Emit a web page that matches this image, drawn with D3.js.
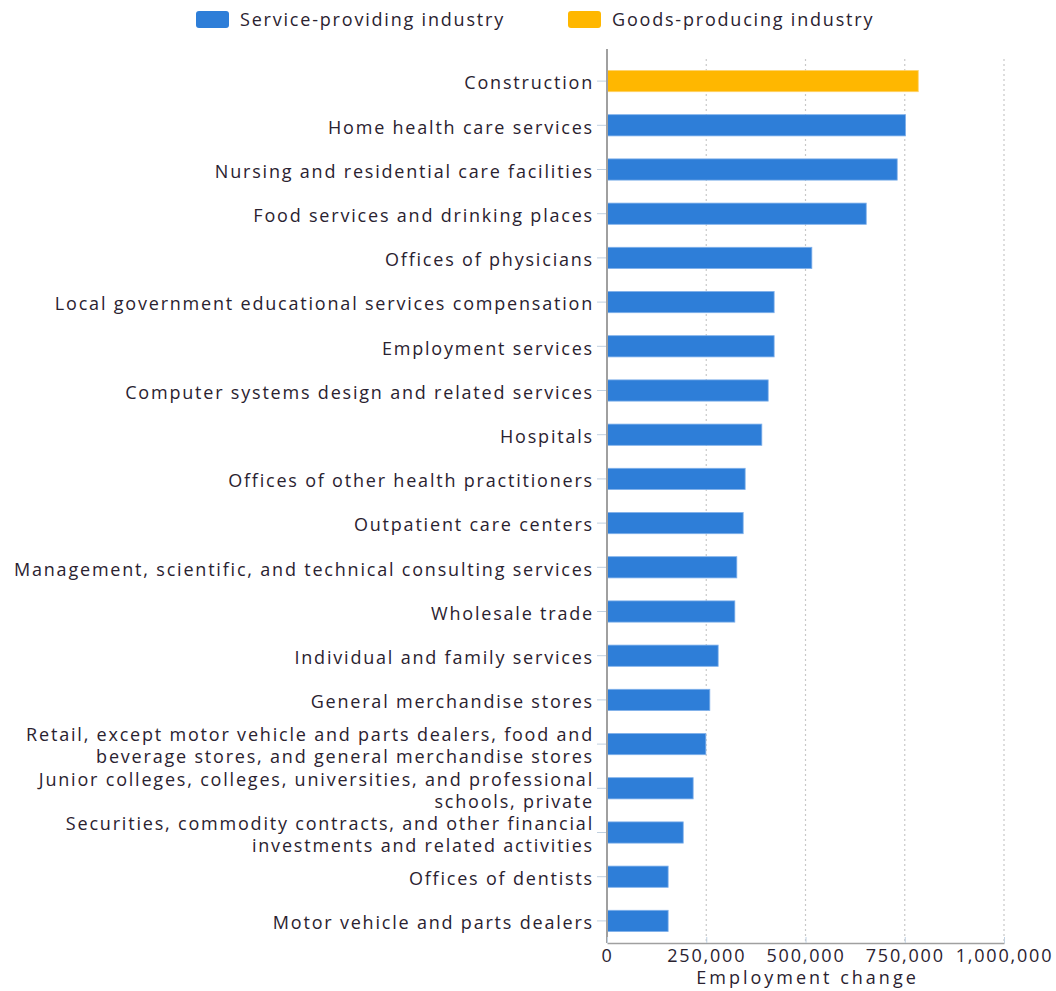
<!DOCTYPE html>
<html>
<head>
<meta charset="utf-8">
<script src="https://cdn.jsdelivr.net/npm/d3@7"></script>
<style>
  body { margin: 0; background: #fff; }
  svg text { font-family: "Open Sans", sans-serif; fill: #2a2230; font-size: 18px; letter-spacing: 1.8px; }
</style>
</head>
<body>
<div class="graph"></div>
<script>
var industries = [
  'Construction',
  'Home health care services',
  'Nursing and residential care facilities',
  'Food services and drinking places',
  'Offices of physicians',
  'Local government educational services compensation',
  'Employment services',
  'Computer systems design and related services',
  'Hospitals',
  'Offices of other health practitioners',
  'Outpatient care centers',
  'Management, scientific, and technical consulting services',
  'Wholesale trade',
  'Individual and family services',
  'General merchandise stores',
  'Retail, except motor vehicle and parts dealers, food and|beverage stores, and general merchandise stores',
  'Junior colleges, colleges, universities, and professional|schools, private',
  'Securities, commodity contracts, and other financial|investments and related activities',
  'Offices of dentists',
  'Motor vehicle and parts dealers'
];

var changes = [784000, 752000, 731000, 653000, 516000, 421000, 421000, 406000, 390000, 348000,
               343000, 327000, 322000, 280000, 259000, 249000, 217000, 192000, 154000, 154000];

var sectors = ['Goods', 'Service', 'Service', 'Service', 'Service', 'Service', 'Service', 'Service', 'Service', 'Service',
               'Service', 'Service', 'Service', 'Service', 'Service', 'Service', 'Service', 'Service', 'Service', 'Service'];

var legendNames = ['Service-providing industry', 'Goods-producing industry'],
    legendKeys = ['Service', 'Goods'];

var tickValues = [0, 250000, 500000, 750000, 1000000];

var width = 1056,
    height = 991,
    margin = {top: 59, right: 52, bottom: 48, left: 607};

var x = d3.scaleLinear().domain([0, 1000000]).range([margin.left, width - margin.right]),
    y = d3.scaleBand().domain(d3.range(industries.length)).range([margin.top, height - margin.bottom]).paddingInner(0.52).paddingOuter(0.26),
    color = d3.scaleOrdinal().domain(['Service', 'Goods']).range(['#2e7ed8', '#ffb700']);

var svg = d3.select('.graph')
            .append('svg')
            .attr('width', width)
            .attr('height', height);

// legend
var legend = svg.selectAll('.legend')
                .data(legendKeys)
                .enter()
                .append('g')
                .attr('class', 'legend')
                .attr('transform', function(d, i) { return 'translate(' + [196, 568][i] + ',11)'; });

legend.append('rect')
      .attr('width', 33)
      .attr('height', 17)
      .attr('rx', 3)
      .attr('fill', function(d) { return color(d); });

legend.append('text')
      .attr('x', 44)
      .attr('y', 9)
      .attr('dy', '.35em')
      .text(function(d, i) { return legendNames[i]; });

// gridlines
svg.append('g')
   .selectAll('line')
   .data(tickValues.slice(1))
   .enter()
   .append('line')
   .attr('x1', function(d) { return x(d); })
   .attr('x2', function(d) { return x(d); })
   .attr('y1', margin.top)
   .attr('y2', height - margin.bottom)
   .attr('stroke', '#c8c8c8')
   .attr('stroke-width', 1.2)
   .attr('stroke-dasharray', '2,3');

// bars
svg.append('g')
   .selectAll('rect')
   .data(changes)
   .enter()
   .append('rect')
   .attr('x', x(0))
   .attr('y', function(d, i) { return y(i); })
   .attr('width', function(d) { return x(d) - x(0); })
   .attr('height', y.bandwidth())
   .attr('fill', function(d, i) { return color(sectors[i]); })
   .attr('stroke', function(d, i) { return sectors[i] === 'Goods' ? '#ffd36b' : '#7fb0ea'; })
   .attr('stroke-width', 0.8);

// y axis ticks and labels
var yTicks = svg.append('g')
                .selectAll('g')
                .data(industries)
                .enter()
                .append('g')
                .attr('transform', function(d, i) { return 'translate(0,' + (y(i) + y.bandwidth() / 2) + ')'; });

yTicks.append('line')
      .attr('x1', x(0) - 10)
      .attr('x2', x(0))
      .attr('stroke', '#c0d0e0')
      .attr('stroke-width', 1);

yTicks.append('text')
      .attr('text-anchor', 'end')
      .each(function(d) {
        var lines = d.split('|'),
            t = d3.select(this);
        lines.forEach(function(line, k) {
          t.append('tspan')
           .attr('x', x(0) - 13)
           .attr('y', (k - (lines.length - 1) / 2) * 22 + 2)
           .attr('dy', '.35em')
           .text(line);
        });
      });

// left axis line
svg.append('line')
   .attr('x1', x(0))
   .attr('x2', x(0))
   .attr('y1', margin.top - 10)
   .attr('y2', height - margin.bottom)
   .attr('stroke', '#a0a0a0')
   .attr('stroke-width', 2);

// x axis
var xAxis = d3.axisBottom(x)
              .tickValues(tickValues)
              .tickSize(0)
              .tickPadding(6)
              .tickFormat(d3.format(','));

var gx = svg.append('g')
            .attr('transform', 'translate(0,' + (height - margin.bottom) + ')')
            .call(xAxis);

gx.select('.domain').attr('stroke', '#a0a0a0').attr('stroke-width', 1.5);
gx.selectAll('.tick text').attr('fill', '#2a2230');
gx.attr('font-size', null).attr('font-family', null);
gx.selectAll('.tick')
  .append('line')
  .attr('y1', -6)
  .attr('y2', 0)
  .attr('stroke', '#c0d0e0');

svg.append('text')
   .attr('x', (x(0) + x(1000000)) / 2 + 2)
   .attr('y', height - 7)
   .attr('text-anchor', 'middle')
   .style('letter-spacing', '3px')
   .text('Employment change');
</script>
</body>
</html>
